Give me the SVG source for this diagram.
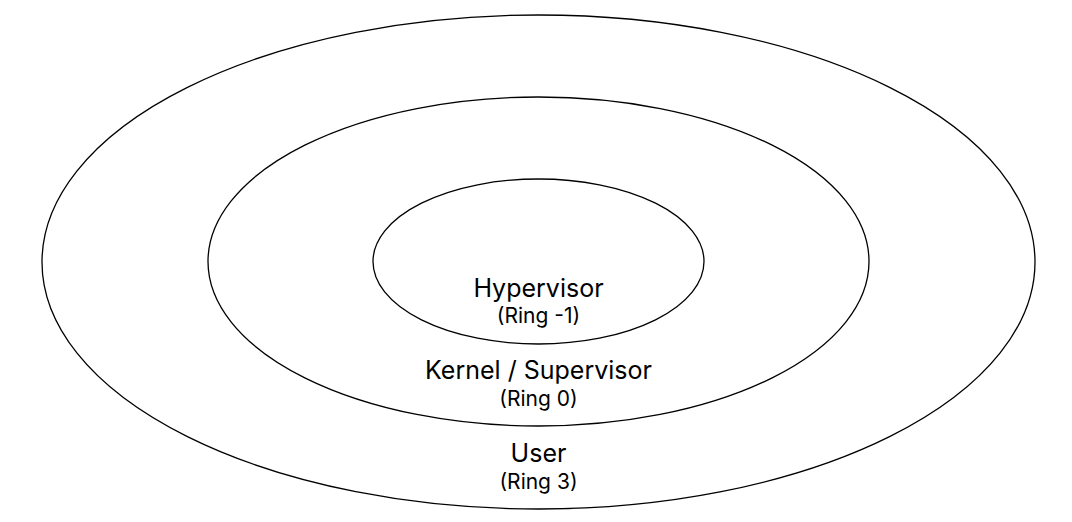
<svg xmlns="http://www.w3.org/2000/svg" width="1072" height="522" viewBox="0 0 1072 522">
<style>
.ring{fill:none;stroke:#000;stroke-width:1.3}
.t{font-family:Inter,"Noto Sans",sans-serif;fill:#000;text-anchor:middle}
.big{font-size:25px}
.small{font-size:21px}
</style>
<rect width="1072" height="522" fill="#fff"/>
<g id="user">
<ellipse class="ring" cx="538.5" cy="262" rx="496.5" ry="247"/>
<text class="t big" x="538.5" y="461.5">User</text>
<text class="t small" x="538.5" y="489">(Ring 3)</text>
</g>
<g id="kernel">
<ellipse class="ring" cx="538.5" cy="261.5" rx="330.5" ry="164.5"/>
<text class="t big" x="538.5" y="379">Kernel / Supervisor</text>
<text class="t small" x="538.5" y="406">(Ring 0)</text>
</g>
<g id="hypervisor">
<ellipse class="ring" cx="538.5" cy="261.5" rx="165.5" ry="82.5"/>
<text class="t big" x="538.5" y="296.5">Hypervisor</text>
<text class="t small" x="538.5" y="322.5">(Ring -1)</text>
</g>
<g id="connectors"/>
</svg>
